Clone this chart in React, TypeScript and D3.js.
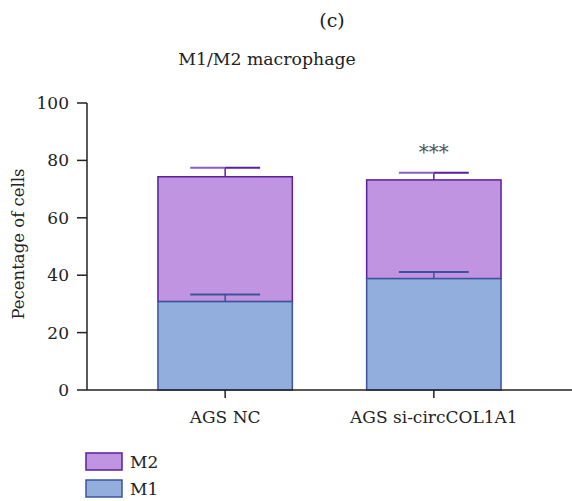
import React from "react";
import * as d3 from "d3";

const categories = ["AGS NC", "AGS si-circCOL1A1"];
const m1Values = [30.8, 38.8];
const m1Errors = [2.5, 2.3];
const m2Values = [43.5, 34.4];
const m2Errors = [3.1, 2.5];
const yTicks = [0, 20, 40, 60, 80, 100];
const significance = ["", "***"];
const legendItems = [
  { key: "M2", fill: "#C094E0", stroke: "#5A1F9C" },
  { key: "M1", fill: "#91AEDD", stroke: "#3B559C" },
];

const FONT = "'DejaVu Serif'";

export default function App() {
  const W = 572;
  const H = 501;
  const x = d3
    .scaleBand<string>()
    .domain(categories)
    .range([87, 572])
    .paddingInner(0.356)
    .paddingOuter(0.34);
  const y = d3.scaleLinear().domain([0, 100]).range([390, 103]);
  const bw = x.bandwidth();
  const capHalf = bw * 0.26;
  const axisColor = "#222";
  const m1 = legendItems[1];
  const m2 = legendItems[0];
  const ts = { fontFamily: FONT };

  return (
    <svg
      width={W}
      height={H}
      style={{ position: "absolute", left: 0, top: 0, background: "#fff", fontFamily: FONT }}
    >
      <text x={332} y={27} fontSize={19} textAnchor="middle" fill="#222" style={ts}>
        (c)
      </text>
      <text x={267} y={65} fontSize={17.3} textAnchor="middle" fill="#222" style={ts}>
        M1/M2 macrophage
      </text>

      {categories.map((c, i) => {
        const x0 = x(c)!;
        const cx = x0 + bw / 2;
        const m1Top = y(m1Values[i]);
        const total = m1Values[i] + m2Values[i];
        const m2Top = y(total);
        const m1Cap = y(m1Values[i] + m1Errors[i]);
        const m2Cap = y(total + m2Errors[i]);
        return (
          <g key={c}>
            <rect
              x={x0}
              y={m2Top}
              width={bw}
              height={m1Top - m2Top}
              fill={m2.fill}
              stroke={m2.stroke}
              strokeWidth={1.5}
            />
            <line x1={cx} x2={cx} y1={m2Top} y2={m2Cap} stroke={m2.stroke} strokeWidth={1.5} />
            <line x1={cx - capHalf} x2={cx} y1={m2Cap} y2={m2Cap} stroke="#8A5CC4" strokeWidth={2} />
            <line x1={cx} x2={cx + capHalf} y1={m2Cap} y2={m2Cap} stroke={m2.stroke} strokeWidth={2} />
            <rect
              x={x0}
              y={m1Top}
              width={bw}
              height={y(0) - m1Top}
              fill={m1.fill}
              stroke={m1.stroke}
              strokeWidth={1.5}
            />
            <line x1={cx} x2={cx} y1={m1Top} y2={m1Cap} stroke={m1.stroke} strokeWidth={1.5} />
            <line x1={cx - capHalf} x2={cx + capHalf} y1={m1Cap} y2={m1Cap} stroke={m1.stroke} strokeWidth={2} />
            {significance[i] && (
              <text x={cx} y={m2Cap - 14} fontSize={20} textAnchor="middle" fill="#555" style={ts}>
                {significance[i]}
              </text>
            )}
          </g>
        );
      })}

      <line x1={87} x2={87} y1={y(100)} y2={y(0)} stroke={axisColor} strokeWidth={1.5} />
      {yTicks.map((t) => (
        <g key={t}>
          <line x1={77} x2={87} y1={y(t)} y2={y(t)} stroke={axisColor} strokeWidth={1.5} />
          <text x={69} y={y(t)} dy="0.35em" fontSize={17} textAnchor="end" fill="#222" style={ts}>
            {t}
          </text>
        </g>
      ))}
      <text
        transform={`translate(24,244) rotate(-90)`}
        fontSize={16.5}
        textAnchor="middle"
        fill="#222"
        style={ts}
      >
        Pecentage of cells
      </text>

      <line x1={87} x2={572} y1={y(0)} y2={y(0)} stroke={axisColor} strokeWidth={1.5} />
      {categories.map((c) => {
        const cx = x(c)! + bw / 2;
        return (
          <g key={c}>
            <line x1={cx} x2={cx} y1={y(0)} y2={y(0) + 8} stroke={axisColor} strokeWidth={1.5} />
            <text x={cx} y={423} fontSize={17} textAnchor="middle" fill="#222" style={ts}>
              {c}
            </text>
          </g>
        );
      })}

      {legendItems.map((l, i) => (
        <g key={l.key}>
          <rect x={86} y={453 + i * 27} width={36} height={17} fill={l.fill} stroke={l.stroke} strokeWidth={1.5} />
          <text x={130} y={468 + i * 27} fontSize={17} fill="#222" style={ts}>
            {l.key}
          </text>
        </g>
      ))}
    </svg>
  );
}
